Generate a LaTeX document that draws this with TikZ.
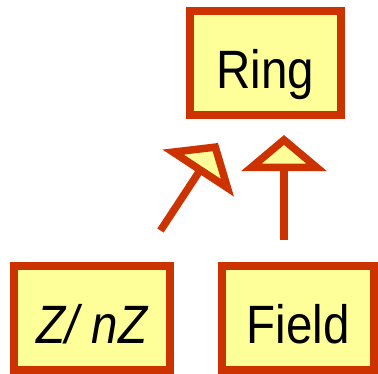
\documentclass[tikz,border=0pt]{standalone}
\usepackage{fontspec}
\setmainfont[FakeStretch=0.88]{Liberation Sans}
\usetikzlibrary{arrows.meta}
\definecolor{bordc}{HTML}{CC3300}
\definecolor{fillc}{HTML}{FFFF99}
\begin{document}
\begin{tikzpicture}[x=1pt,y=-1pt,
  cls/.style={draw=bordc,fill=fillc,line width=8pt,rectangle,inner sep=0pt,
    minimum height=104pt,text height=50pt,text depth=0pt,
    font=\fontsize{54}{60}\selectfont},
  inh/.style={draw=bordc,line width=7.5pt,line join=miter,
    -{Triangle[length=36pt,width=84pt,fill=fillc,line join=miter]}}]
\useasboundingbox (0,0) rectangle (378,373);
\node[cls,minimum width=151pt] (ring) at (265.5,63) {Ring};
\node[cls,minimum width=156pt] (zn) at (92,318) {\itshape Z/ nZ};
\node[cls,minimum width=152pt] (field) at (298,318) {Field};
\coordinate (a1s) at (160.5,230.5);
\coordinate (a1e) at (218,143);
\coordinate (a2s) at (284,240);
\coordinate (a2e) at (284,135);
\draw[inh] (a1s) -- (a1e);
\draw[inh] (a2s) -- (a2e);
\end{tikzpicture}
\end{document}
